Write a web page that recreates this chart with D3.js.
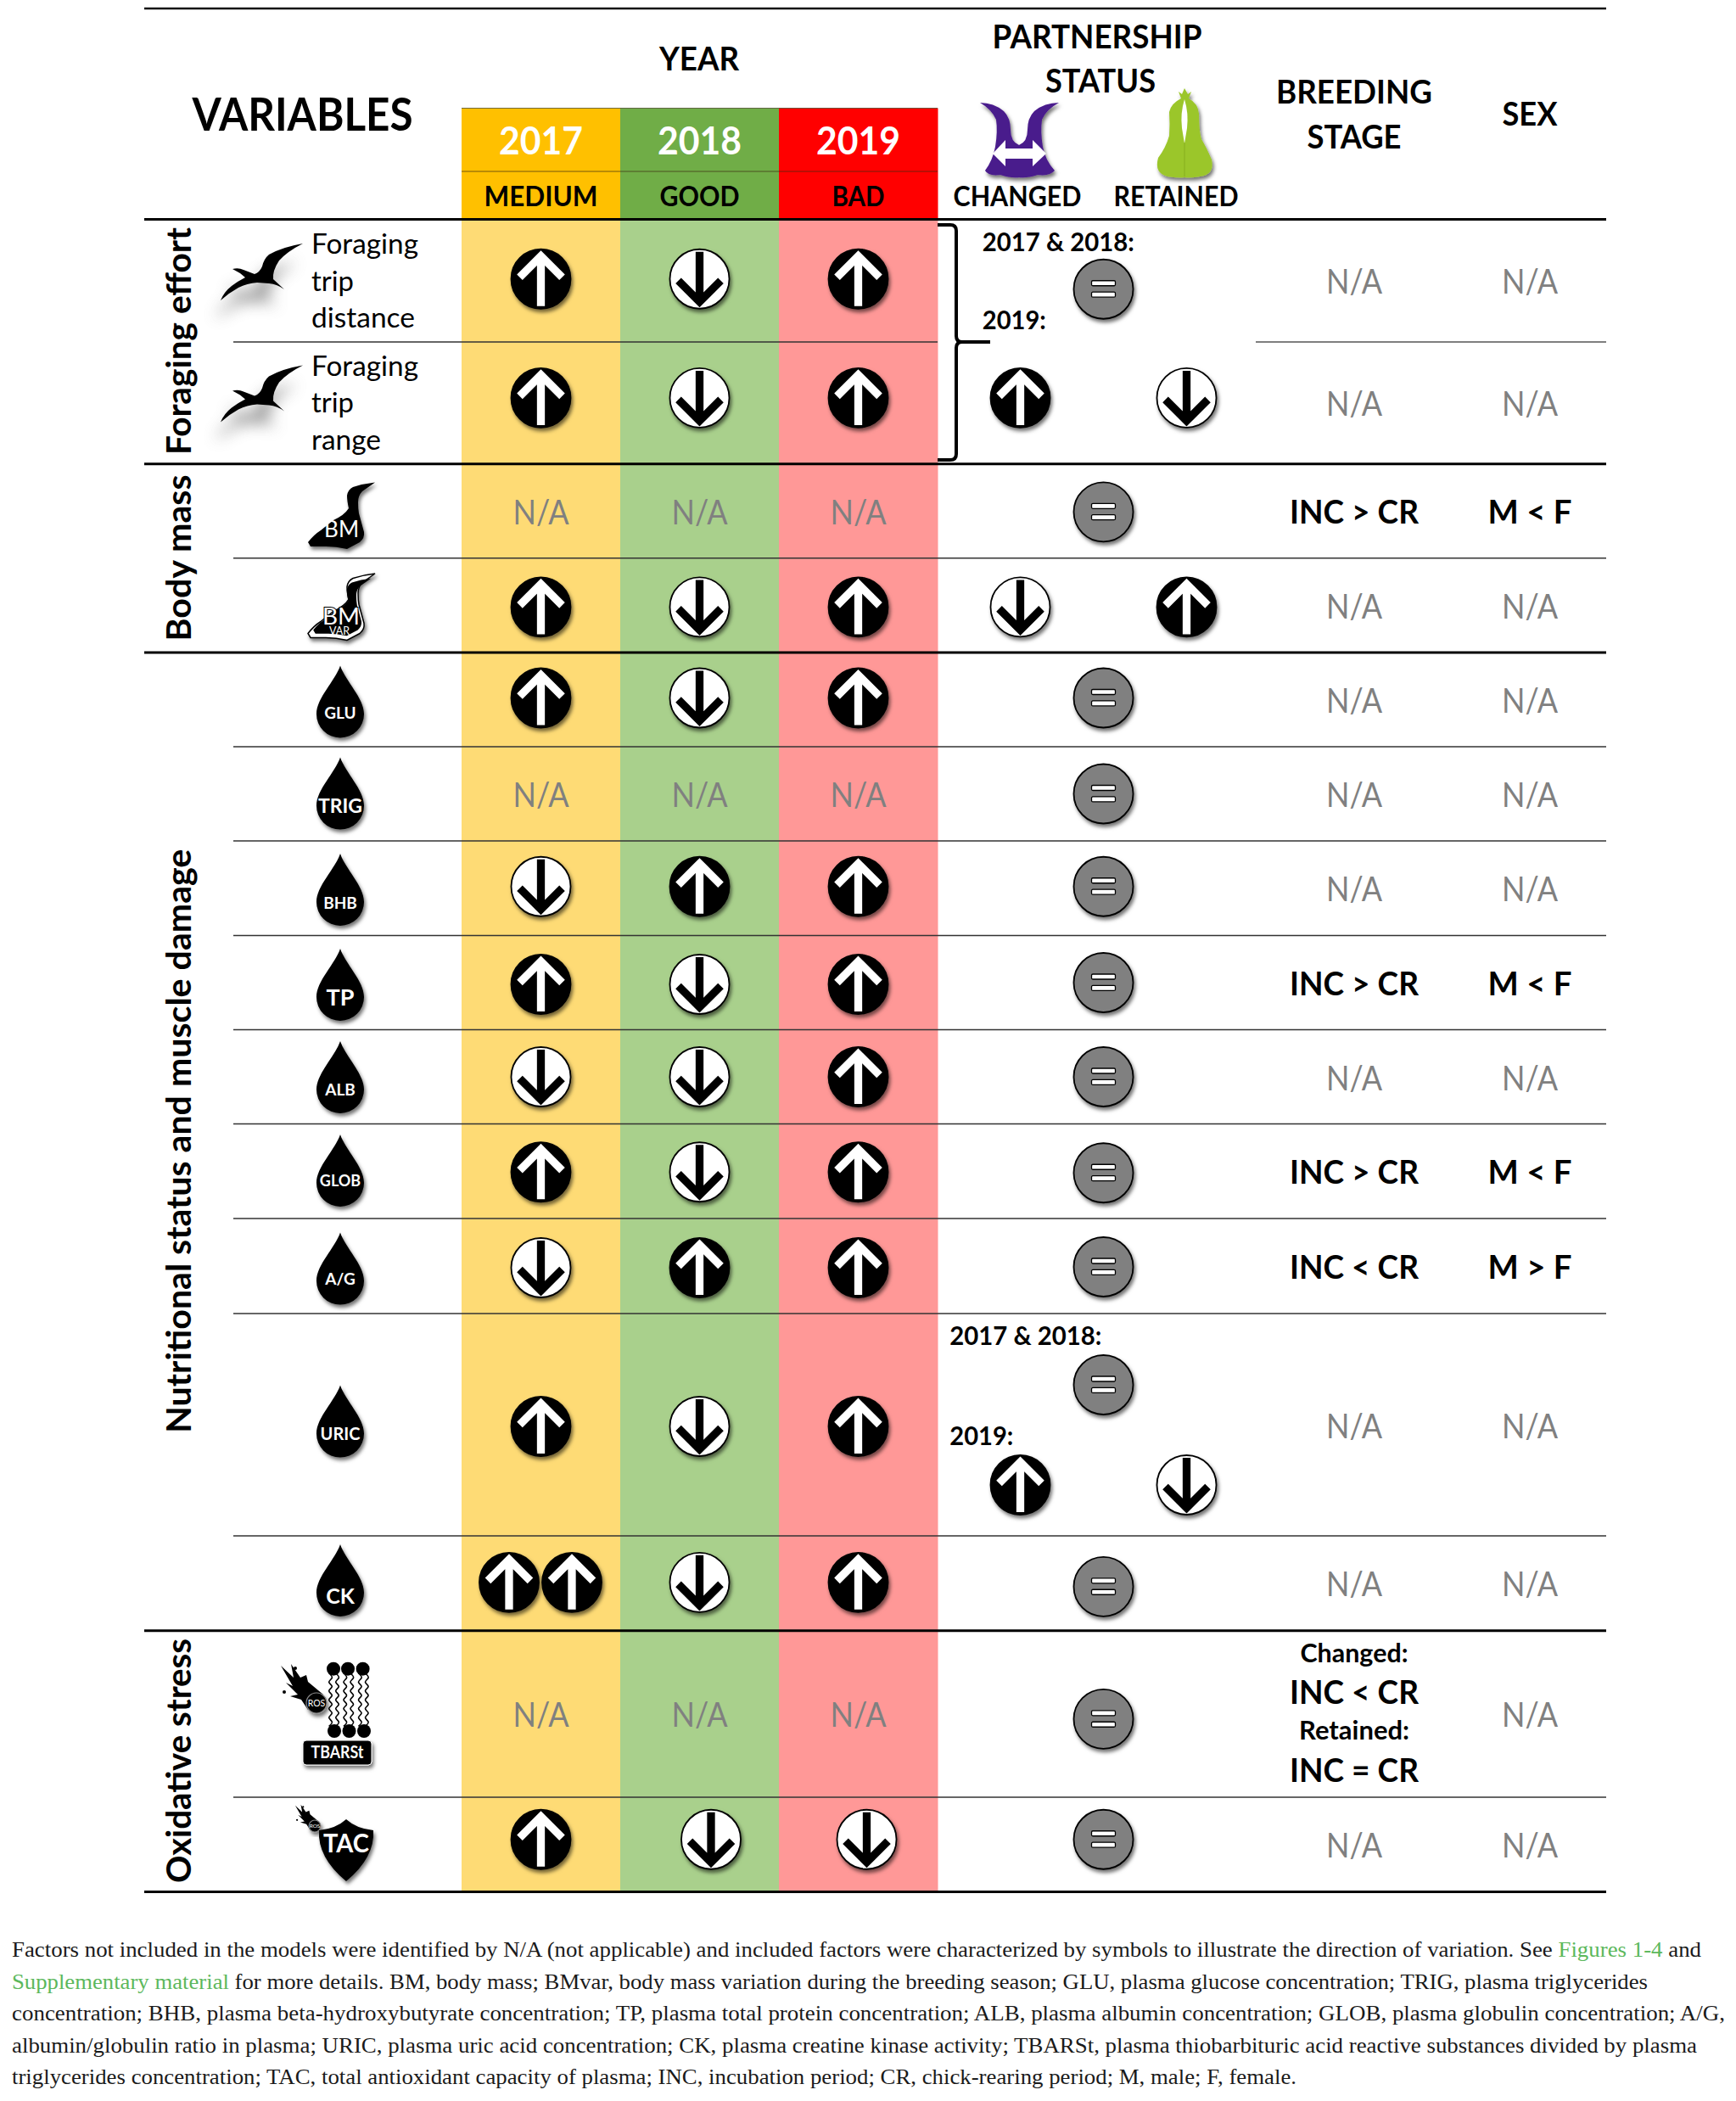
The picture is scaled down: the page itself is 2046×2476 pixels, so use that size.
<!DOCTYPE html>
<html>
<head>
<meta charset="utf-8">
<script src="https://d3js.org/d3.v7.min.js"></script>
<style>
  body { margin: 0; background: #fff; }
  svg { display: block; }
</style>
</head>
<body>
<div id="chart"></div>
<script>
// Data
const years = ["2017", "2018", "2019"];
const yearQuality = ["MEDIUM", "GOOD", "BAD"];
const rowIds = ["dist", "range", "BM", "BMvar", "GLU", "TRIG", "BHB", "TP", "ALB", "GLOB", "A/G", "URIC", "CK", "TBARSt", "TAC"];
const effect2017 = ["up", "up", "na", "up", "up", "na", "down", "up", "down", "up", "down", "up", "upup", "na", "up"];
const effect2018 = ["down", "down", "na", "down", "down", "na", "up", "down", "down", "down", "up", "down", "down", "na", "down"];
const effect2019 = ["up", "up", "na", "up", "up", "na", "up", "up", "up", "up", "up", "up", "up", "na", "down"];
const partnerEqual = ["eq", null, "eq", null, "eq", "eq", "eq", "eq", "eq", "eq", "eq", "eq", "eq", "eq", "eq"];
const partnerChanged = [null, "up", null, "down", null, null, null, null, null, null, null, "up", null, null, null];
const partnerRetained = [null, "down", null, "up", null, null, null, null, null, null, null, "down", null, null, null];
const breeding = ["N/A", "N/A", "INC > CR", "N/A", "N/A", "N/A", "N/A", "INC > CR", "N/A", "INC > CR", "INC < CR", "N/A", "N/A", null, "N/A"];
const sexEffect = ["N/A", "N/A", "M < F", "N/A", "N/A", "N/A", "N/A", "M < F", "N/A", "M < F", "M > F", "N/A", "N/A", "N/A", "N/A"];
const dropRows = ["GLU", "TRIG", "BHB", "TP", "ALB", "GLOB", "A/G", "URIC", "CK"];
const groups = ["Foraging effort", "Body mass", "Nutritional status and muscle damage", "Oxidative stress"];
const captionLines = [
  [["Factors not included in the models were identified by N/A (not applicable) and included factors were characterized by symbols to illustrate the direction of variation. See ", 0], ["Figures 1-4", 1], [" and", 0]],
  [["Supplementary material", 1], [" for more details. BM, body mass; BMvar, body mass variation during the breeding season; GLU, plasma glucose concentration; TRIG, plasma triglycerides", 0]],
  [["concentration; BHB, plasma beta-hydroxybutyrate concentration; TP, plasma total protein concentration; ALB, plasma albumin concentration; GLOB, plasma globulin concentration; A/G,", 0]],
  [["albumin/globulin ratio in plasma; URIC, plasma uric acid concentration; CK, plasma creatine kinase activity; TBARSt, plasma thiobarbituric acid reactive substances divided by plasma", 0]],
  [["triglycerides concentration; TAC, total antioxidant capacity of plasma; INC, incubation period; CR, chick-rearing period; M, male; F, female.", 0]]
];

// Layout
const rowEdges = [258.5, 403, 546.8, 657.8, 769, 880, 991, 1102.5, 1213.5, 1324.5, 1436, 1548, 1810, 1921.7, 2118, 2229.5];
const thickAfter = ["range", "BMvar", "CK", "TAC"];
const yearNudge = [-2, -6, 0, 2, -2, 0, -2, 2, 0, 1, 2, 2, -1, 0, -6];
const equalNudge = [10, 0, 1, 0, -2, 0, -2, 0, 0, 2, 1, -47, 4, 6, -6];
const arrowNudge = { range: -6, BMvar: 2, URIC: 71 };
const dropTips = [784.5, 892.6, 1006, 1118, 1227, 1337, 1452.6, 1632.6, 1820];
const dropTextY = [62, 65, 65, 67, 64, 61, 61, 64, 70];
const dropTextSize = [19, 23, 19, 27, 19, 18, 19, 20, 25];
const groupCentres = [402, 657.5, 1344.7, 2075];
const groupWidths = [268, 196, 688, 288];
const captionWidths = [1991, 1928, 2019, 1986, 1514];

const width = 2046, height = 2476;
const symbolR = 35;
const sans = "Lato, 'Open Sans', sans-serif";

const svg = d3.select("#chart").append("svg").attr("width", width).attr("height", height).attr("viewBox", `0 0 ${width} ${height}`);
const defs = svg.append("defs");
const shadow = defs.append("filter").attr("id", "shadow").attr("x", "-30%").attr("y", "-30%").attr("width", "170%").attr("height", "170%");
shadow.append("feDropShadow").attr("dx", 2).attr("dy", 3.5).attr("stdDeviation", 2.2).attr("flood-color", "#000").attr("flood-opacity", 0.55);
defs.append("filter").attr("id", "blur").attr("x", "-80%").attr("y", "-80%").attr("width", "260%").attr("height", "260%")
  .append("feGaussianBlur").attr("stdDeviation", 9);

// Scales
const xYear = d3.scaleBand().domain(years).range([544, 1105]);
const xPartner = d3.scalePoint().domain(["changed", "equal", "retained"]).range([1202.5, 1398.5]);
const xExtra = d3.scaleOrdinal().domain(["breeding", "sex"]).range([1596, 1803]);
const yTop = d3.scaleOrdinal().domain(rowIds).range(rowEdges.slice(0, -1));
const yBottom = d3.scaleOrdinal().domain(rowIds).range(rowEdges.slice(1));
const yCentre = d => (yTop(d) + yBottom(d)) / 2;
const bandFill = d3.scaleOrdinal().domain(years).range(["#FEDB75", "#A9D08C", "#FF9897"]);
const headFill = d3.scaleOrdinal().domain(years).range(["#FFC000", "#70AD47", "#FF0000"]);

function txt(parent, s, x, y, size, o = {}) {
  const t = parent.append("text").attr("x", x).attr("y", y)
    .attr("font-family", o.family || sans).attr("font-size", size)
    .attr("font-weight", o.weight || 700).attr("fill", o.fill || "#000")
    .attr("text-anchor", o.anchor || "middle").text(s);
  if (o.w) t.attr("textLength", o.w).attr("lengthAdjust", "spacingAndGlyphs");
  return t;
}

// colour columns
years.forEach(y => {
  svg.append("rect").attr("x", xYear(y)).attr("y", 127.5).attr("width", xYear.bandwidth() + 0.5).attr("height", 131).attr("fill", headFill(y));
  svg.append("rect").attr("x", xYear(y)).attr("y", 258.5).attr("width", xYear.bandwidth() + 0.5).attr("height", 1971).attr("fill", bandFill(y));
});
svg.append("line").attr("x1", 544).attr("x2", 1105).attr("y1", 127.5).attr("y2", 127.5).attr("stroke", "#3a3a1a").attr("stroke-width", 1.2).attr("opacity", 0.7);
svg.append("line").attr("x1", 544).attr("x2", 1105).attr("y1", 202).attr("y2", 202).attr("stroke", "#3a2a10").attr("stroke-width", 1.2).attr("opacity", 0.7);

// rules
svg.append("line").attr("x1", 170).attr("x2", 1893).attr("y1", 10).attr("y2", 10).attr("stroke", "#111").attr("stroke-width", 2.5);
svg.append("line").attr("x1", 170).attr("x2", 1893).attr("y1", 258.5).attr("y2", 258.5).attr("stroke", "#000").attr("stroke-width", 3);
rowIds.forEach(id => {
  const y = yBottom(id);
  if (thickAfter.includes(id)) {
    svg.append("line").attr("x1", 170).attr("x2", 1893).attr("y1", y).attr("y2", y).attr("stroke", "#000").attr("stroke-width", 3);
  } else if (id === "dist") {
    svg.append("line").attr("x1", 275).attr("x2", 1105).attr("y1", y).attr("y2", y).attr("stroke", "#333").attr("stroke-width", 1.5);
    svg.append("line").attr("x1", 1480).attr("x2", 1893).attr("y1", y).attr("y2", y).attr("stroke", "#555").attr("stroke-width", 1.5);
  } else {
    svg.append("line").attr("x1", 275).attr("x2", 1893).attr("y1", y).attr("y2", y).attr("stroke", "#333").attr("stroke-width", 1.5);
  }
});

// headers
txt(svg, "VARIABLES", 356.5, 153.5, 53, { w: 260 });
txt(svg, "YEAR", 824, 83, 39, { w: 94 });
txt(svg, "PARTNERSHIP", 1293, 57, 39, { w: 247 });
txt(svg, "STATUS", 1297, 109, 39, { w: 130 });
txt(svg, "BREEDING", 1596, 122, 39, { w: 184 });
txt(svg, "STAGE", 1596, 175, 39, { w: 111 });
txt(svg, "SEX", 1803, 148, 39, { w: 65 });
years.forEach((y, i) => {
  const cx = xYear(y) + xYear.bandwidth() / 2;
  txt(svg, y, cx, 182, 45, { fill: "#fff", w: 99 });
  txt(svg, yearQuality[i], cx, 243, 33, { w: [134, 94, 62][i] });
});
txt(svg, "CHANGED", 1199, 243, 33, { w: 151 });
txt(svg, "RETAINED", 1386, 243, 33, { w: 147 });

// partner birds in the header
const partner = svg.append("g");
partner.append("path").attr("filter", "url(#shadow)").attr("fill", "#4A1A8C").attr("transform", "translate(1201,165)")
  .attr("d", "M-46,-44 Q-30,-44 -18,-34 Q-10,-26 -10,-12 Q-10,2 0,6 Q10,2 10,-12 Q10,-26 18,-34 Q30,-44 47,-44 Q32,-36 27,-24 Q25,-10 28,8 Q31,24 42,36 Q36,43 22,41 Q10,45 0,44 Q-10,45 -22,41 Q-36,43 -40,36 Q-31,24 -28,8 Q-25,-10 -27,-24 Q-32,-36 -46,-44 Z");
partner.append("path").attr("fill", "#fff").attr("transform", "translate(1201,181)")
  .attr("d", "M-31,0 L-16,-16 L-16,-6 L16,-6 L16,-16 L32,0 L16,15 L16,6 L-16,6 L-16,15 Z");
partner.append("path").attr("filter", "url(#shadow)").attr("fill", "#9BC62B").attr("transform", "translate(1396,160)")
  .attr("d", "M0,-56 L4,-49 L8,-52 L5,-44 Q16,-38 17,-26 Q17,-6 20,4 Q26,14 32,28 Q36,46 18,48 Q8,50 0,49 Q-8,50 -20,48 Q-36,44 -31,26 Q-22,14 -18,0 Q-17,-14 -18,-28 Q-16,-38 -4,-44 L-7,-52 L-3,-49 Z");
partner.append("path").attr("fill", "#fff").attr("transform", "translate(1396,143)")
  .attr("d", "M0,-26 Q5,-10 3,8 L0,26 L-3,8 Q-5,-10 0,-26 Z");
partner.append("line").attr("x1", 1396).attr("x2", 1396).attr("y1", 168).attr("y2", 208).attr("stroke", "#86AE1F").attr("stroke-width", 1);

// group labels
groups.forEach((g, i) => {
  txt(svg, g, 0, 0, 40, { w: groupWidths[i] }).attr("transform", `translate(225,${groupCentres[i]}) rotate(-90)`);
});

// symbols
function arrow(parent, kind, cx, cy) {
  const g = parent.append("g").attr("transform", `translate(${cx},${cy})`);
  const up = kind === "up";
  g.append("circle").attr("r", symbolR).attr("fill", up ? "#000" : "#fff").attr("stroke", "#000").attr("stroke-width", 1.8).attr("filter", "url(#shadow)");
  const s = up ? 1 : -1;
  g.append("path").attr("fill", "none").attr("stroke", up ? "#fff" : "#000").attr("stroke-width", 9.3).attr("stroke-linejoin", "miter")
    .attr("d", `M-25,${s * -2} L0,${s * -27} L25,${s * -2} M0,${s * -27} L0,${s * 32}`);
}
function equal(parent, cx, cy) {
  const g = parent.append("g").attr("transform", `translate(${cx},${cy})`);
  g.append("circle").attr("r", symbolR).attr("fill", "#808080").attr("stroke", "#000").attr("stroke-width", 1.8).attr("filter", "url(#shadow)");
  [-10, 3.4].forEach(y => {
    g.append("rect").attr("x", -14).attr("y", y).attr("width", 28).attr("height", 6).attr("rx", 1.5).attr("fill", "#fff").attr("stroke", "#000").attr("stroke-width", 1.3);
  });
}
const naStyle = { weight: 400, fill: "#808080", w: 66 };

rowIds.forEach((id, r) => {
  const cy = yCentre(id) + yearNudge[r];
  [effect2017, effect2018, effect2019].forEach((series, c) => {
    const cx = xYear(years[c]) + xYear.bandwidth() / 2;
    const e = series[r];
    if (e === "na") txt(svg, "N/A", cx, yCentre(id) + 15.5, 41, naStyle);
    else if (e === "upup") { arrow(svg, "up", cx - 37.5, cy); arrow(svg, "up", cx + 36.5, cy); }
    else if (id === "TAC" && c > 0) arrow(svg, e, cx + [0, 13.5, 10][c], cy);
    else arrow(svg, e, cx, cy);
  });
  if (partnerEqual[r]) equal(svg, xPartner("equal"), yCentre(id) + equalNudge[r]);
  if (partnerChanged[r]) {
    const ay = yCentre(id) + (arrowNudge[id] || 0);
    arrow(svg, partnerChanged[r], xPartner("changed"), ay);
    arrow(svg, partnerRetained[r], xPartner("retained"), ay);
  }
  [[breeding[r], "breeding"], [sexEffect[r], "sex"]].forEach(([label, col]) => {
    if (label === null) return;
    if (label === "N/A") txt(svg, label, xExtra(col), yCentre(id) + 15.5, 41, naStyle);
    else txt(svg, label, xExtra(col), yCentre(id) + 15, 38, { w: col === "sex" ? 99 : 152 });
  });
});

// mixed breeding cell and partnership sub-labels
txt(svg, "Changed:", 1596, 1958.5, 30, { w: 127 });
txt(svg, "INC < CR", 1596, 2008, 38, { w: 152 });
txt(svg, "Retained:", 1596, 2050, 30, { w: 130 });
txt(svg, "INC = CR", 1596, 2100, 38, { w: 152 });
[[1157.8, 295.5, 1], [1157.8, 388, 0], [1119.3, 1585, 1], [1119.3, 1703, 0]].forEach(([x, y, both]) => {
  txt(svg, both ? "2017 & 2018:" : "2019:", x, y, 30, { anchor: "start", w: both ? 179 : 75 });
});

// bracket
svg.append("path").attr("fill", "none").attr("stroke", "#000").attr("stroke-width", 4)
  .attr("d", "M1105,265 H1120 Q1127,265 1127,272 V396 Q1127,403 1134,403 H1167 M1134,403 Q1127,403 1127,410 V535 Q1127,542 1120,542 H1105");

// foraging birds + text
const birdPath = "M54,-40 Q36,-31 26,-20 Q18,-8 19,2 L32,14 Q24,8 14,7 L0,6 Q-12,7 -22,12 Q-33,18 -43,27 Q-39,17 -30,10 Q-22,4 -14,0 L-20,-5 L-29,-10 Q-22,-12 -16,-9 L-3,-4 Q3,-6 6,-13 Q8,-22 14,-27 Q30,-36 54,-40 Z";
[["dist", 327, ["Foraging", "trip", "distance"], [299, 343, 386]], ["range", 470.6, ["Foraging", "trip", "range"], [443, 486, 530]]].forEach(([id, y, words, bases]) => {
  svg.append("path").attr("d", birdPath).attr("fill", "#777").attr("opacity", 0.75).attr("filter", "url(#blur)").attr("transform", `translate(297,${y + 22})`);
  svg.append("path").attr("d", birdPath).attr("fill", "#000").attr("transform", `translate(303,${y})`);
  words.forEach((w, i) => txt(svg, w, 367, bases[i], 33, { anchor: "start", weight: 400, w: { Foraging: 126, trip: 50, distance: 122, range: 82 }[w] }));
});

// body mass icons
const goose = "M42,-41.5 L27,-31 Q22,-26 22,-18 Q22,-10 23,-5 L29,17 Q30,24 24,29 L9,37 Q-4,34 -16,34 L-34,34 L-37,29 Q-30,20 -22,15 L-7,3 Q6,-3 11,-11 Q9,-20 9,-26 Q10,-33 16,-36 Q28,-40 42,-41.5 Z";
svg.append("path").attr("d", goose).attr("fill", "#000").attr("filter", "url(#shadow)").attr("transform", "translate(400,610)");
txt(svg, "BM", 402.6, 633, 26, { weight: 400, fill: "#fff", w: 41 });
const gv = svg.append("g").attr("transform", "translate(400,717.5)");
gv.append("path").attr("d", goose).attr("fill", "#fff").attr("stroke", "#000").attr("stroke-width", 1.5).attr("filter", "url(#shadow)");
gv.append("path").attr("d", goose).attr("fill", "#000").attr("transform", "translate(1,0) scale(0.86)");
txt(svg, "BM", 402, 736, 27, { weight: 400, fill: "#fff", w: 44 }).attr("stroke", "#000").attr("stroke-width", 2).attr("paint-order", "stroke");
txt(svg, "VAR", 400, 748, 14, { weight: 400, fill: "#fff", w: 24 });

// drop icons
const drop = "M0,0 C6,18 28,38 28,57 A28,28 0 0 1 -28,57 C-28,38 -6,18 0,0 Z";
dropRows.forEach((name, i) => {
  svg.append("path").attr("d", drop).attr("fill", "#000").attr("filter", "url(#shadow)").attr("transform", `translate(401,${dropTips[i]})`);
  txt(svg, name, 401, dropTips[i] + dropTextY[i], dropTextSize[i], { fill: "#fff" });
});

// TBARSt icon
const comet = "M8,-10 L-10,-25 L-12,-33 L-19,-30 L-30,-46 L-27,-30 L-42,-44 L-28,-20 L-36,-24 L-22,-10 L-31,-8 L-18,-4 L-10,8 Z";
function cometAt(cx, cy, k, r, fs) {
  const g = svg.append("g").attr("transform", `translate(${cx},${cy})`);
  g.append("path").attr("d", comet).attr("fill", "#000").attr("transform", `scale(${k})`);
  [[-25, -41], [-38, -13]].forEach(([a, b]) => g.append("circle").attr("cx", a * k).attr("cy", b * k).attr("r", 2 * k).attr("fill", "#000"));
  g.append("circle").attr("r", r).attr("fill", "#000").attr("stroke", "#888").attr("stroke-width", 1.2).attr("filter", "url(#shadow)");
  txt(g, "ROS", 0, fs * 0.36, fs, { fill: "#fff", weight: 400 });
}
const wave = d3.line().curve(d3.curveNatural);
[[393, 394], [410, 411.5], [427.6, 429]].forEach(([top, bot]) => {
  [-4, 4].forEach(off => {
    const pts = d3.range(0, 13).map(k => [(top + bot) / 2 + off + (k % 2 ? 1.8 : -1.8), 1972 + k * 5.2]);
    svg.append("path").attr("d", wave(pts)).attr("fill", "none").attr("stroke", "#000").attr("stroke-width", 1.6);
  });
  svg.append("circle").attr("cx", top).attr("cy", 1966.7).attr("r", 8).attr("fill", "#000");
  svg.append("circle").attr("cx", bot).attr("cy", 2040).attr("r", 8).attr("fill", "#000");
});
cometAt(373, 2007, 1, 12, 10.5);
svg.append("rect").attr("x", 357).attr("y", 2051).attr("width", 81).attr("height", 29).attr("rx", 4).attr("fill", "#000").attr("stroke", "#fff").attr("stroke-width", 1).attr("filter", "url(#shadow)");
txt(svg, "TBARSt", 397.5, 2072, 21, { fill: "#fff", w: 62 });

// TAC icon
cometAt(371, 2152, 0.55, 7, 6.5);
svg.append("path").attr("fill", "#000").attr("filter", "url(#shadow)").attr("transform", "translate(408,2144)")
  .attr("d", "M0,0 Q12,11 32,13 Q34,45 0,73 Q-34,45 -32,13 Q-12,11 0,0 Z");
txt(svg, "TAC", 408, 2183, 31, { fill: "#fff", w: 54 });

// caption
captionLines.forEach((parts, i) => {
  const t = svg.append("text").attr("x", 14).attr("y", 2306 + i * 37.6)
    .attr("font-family", "'Liberation Serif', serif").attr("font-size", 26).attr("fill", "#1a1a1a")
    .attr("textLength", captionWidths[i]).attr("lengthAdjust", "spacingAndGlyphs");
  parts.forEach(([s, link]) => {
    t.append("tspan").attr("fill", link ? "#5cb85c" : "#1a1a1a").text(s);
  });
});
</script>
</body>
</html>
